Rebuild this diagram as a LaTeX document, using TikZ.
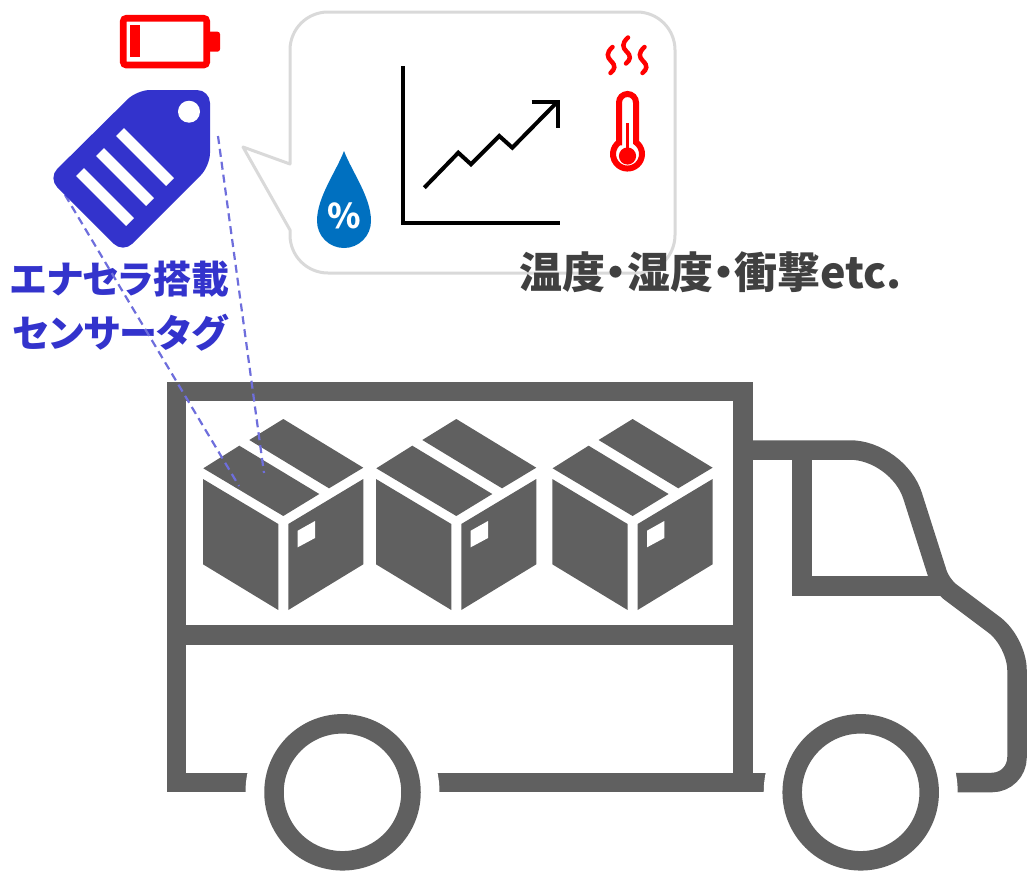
\documentclass[tikz,border=0pt]{standalone}
\usepackage{fontspec}
\newfontfamily\jpfont{Noto Sans CJK JP}[RawFeature=+palt]
\definecolor{truckgray}{HTML}{606060}
\definecolor{tagblue}{HTML}{3333CC}
\definecolor{linkblue}{HTML}{6E6EDC}
\definecolor{alertred}{HTML}{FF0000}
\definecolor{dropblue}{HTML}{0070C0}
\definecolor{bubblegray}{HTML}{D9D9D9}
\definecolor{textgray}{HTML}{404040}
\begin{document}
\begin{tikzpicture}[x=1pt,y=-1pt,
  truckline/.style={draw=truckgray, line width=19.5pt},
  dashlink/.style={draw=linkblue, line width=2.2pt, dash pattern=on 8pt off 5pt},
  chartline/.style={draw=black, line width=4.3pt},
  heatwave/.style={draw=alertred, line width=4.5pt, line cap=round},
  parcel/.pic={
    \fill[truckgray] (0,60) -- (75.3,105) -- (75.3,191) -- (0,145.3) -- cycle;
    \fill[truckgray] (85.3,105) -- (160.3,60) -- (160.3,145.3) -- (85.3,191) -- cycle;
    \fill[truckgray] (0.3,49.3) -- (36.3,26.7) -- (116.3,75) -- (80.3,97) -- cycle;
    \fill[truckgray] (46.3,21) -- (80.3,0) -- (160.3,48.7) -- (126,69.3) -- cycle;
    \fill[white] (94.7,111.7) -- (112,102) -- (112,119) -- (94.7,128.3) -- cycle;
  }]
\useasboundingbox (0,0) rectangle (1027,870);

% speech bubble
\draw[draw=bubblegray, fill=white, line width=3pt, line join=round]
  (290,164) -- (290,50) arc(180:270:38) -- (637,12) arc(270:360:38)
  -- (675,235) arc(0:90:38) -- (328,273) arc(90:180:38)
  -- (290,230) -- (243,147) -- cycle;

% humidity drop
\fill[dropblue] (344,151) .. controls (336,172) and (317,197) .. (317,221)
  arc(180:0:27) .. controls (371,197) and (352,172) .. (344,151) -- cycle;
\node[font=\jpfont\bfseries\fontsize{34}{34}\selectfont, text=white] (pct) at (344.5,216) {\%};

% trend chart
\draw[chartline] (402.7,66) -- (402.7,223.3) -- (560,223.3);
\draw[chartline, line width=4pt] (424.3,187.7) -- (458.3,152.7) -- (471,164.3) -- (499.3,136) -- (512.3,147.7) -- (556,103.3);
\draw[chartline, line width=4pt] (531.7,101.7) -- (557.7,101.7) -- (557.7,128.3);

% thermometer
\draw[draw=alertred, line width=6pt]
  (619,142.3) -- (619,102.5) arc(180:360:8.5) -- (636,142.3) arc(-54.1:234.1:14.5) -- cycle;
\fill[alertred] (627.5,156) circle[radius=8.6];
\fill[alertred] (625.8,123.3) rectangle (629.4,152);
\draw[heatwave] (612.5,47) .. controls (606,53) and (607,57) .. (611,61) .. controls (616,66) and (615,69) .. (610.5,73);
\draw[heatwave] (628,37.5) .. controls (621.5,43.5) and (622.5,47.5) .. (626.5,51.5) .. controls (631.5,56.5) and (630.5,59.5) .. (626,63.5);
\draw[heatwave] (644.5,47) .. controls (638,53) and (639,57) .. (643,61) .. controls (648,66) and (647,69) .. (642.5,73);

% truck body
\draw[truckline] (743,782.5) -- (743,391.5) -- (176.5,391.5) -- (176.5,782.5) -- (800,782.5);
\draw[truckline] (176.5,635) -- (743,635);
\draw[truckline] (743,450) [rounded corners=48pt] -- (898,450) [rounded corners=12pt] -- (941,585)
  [rounded corners=28pt] -- (1017,642) [rounded corners=25pt] -- (1017,782.5) -- (900,782.5);
\draw[truckline] (802,450) -- (802,586) -- (941,586);
\fill[white] (342.5,792.3) circle[radius=97];
\fill[white] (860.7,792.3) circle[radius=97];
\draw[truckline] (342.5,792.3) circle[radius=68.5];
\draw[truckline] (860.7,792.3) circle[radius=68.5];

% cargo
\pic (parcelA) at (203,419) {parcel};
\pic (parcelB) at (376,419) {parcel};
\pic (parcelC) at (552.3,419) {parcel};

% captions
\node[font=\jpfont\bfseries\fontsize{38}{54}\selectfont, text=tagblue, align=center] (tagtext) at (120,306) {エナセラ搭載\\センサータグ};
\node[font=\jpfont\bfseries\fontsize{43}{43}\selectfont, text=textgray, anchor=west] (metrics) at (516,272) {温度・湿度・衝撃etc.};

% links from the tag to the parcel
\coordinate (tagL) at (65,195);
\coordinate (tagR) at (218,136);
\coordinate (boxA) at (239,486);
\coordinate (boxB) at (264,473);
\draw[dashlink] (tagL) -- (boxA);
\draw[dashlink] (tagR) -- (boxB);

% sensor tag
\fill[tagblue, rounded corners=13pt] (137,90) -- (210,90) -- (210,166) -- (123,253) -- (48,178) -- cycle;
\fill[white] (189,111.7) circle[radius=11];
\draw[white, line width=11pt] (120,132) -- (170,182);
\draw[white, line width=11pt] (100,152) -- (150,202);
\draw[white, line width=11pt] (80,172) -- (130,222);

% battery
\draw[alertred, line width=6.7pt, rounded corners=3pt] (123.3,18.3) rectangle (206.7,65);
\fill[alertred, rounded corners=2.5pt] (207,31.7) rectangle (220,51.7);
\fill[alertred] (130,25) rectangle (140,57.3);
\end{tikzpicture}
\end{document}
